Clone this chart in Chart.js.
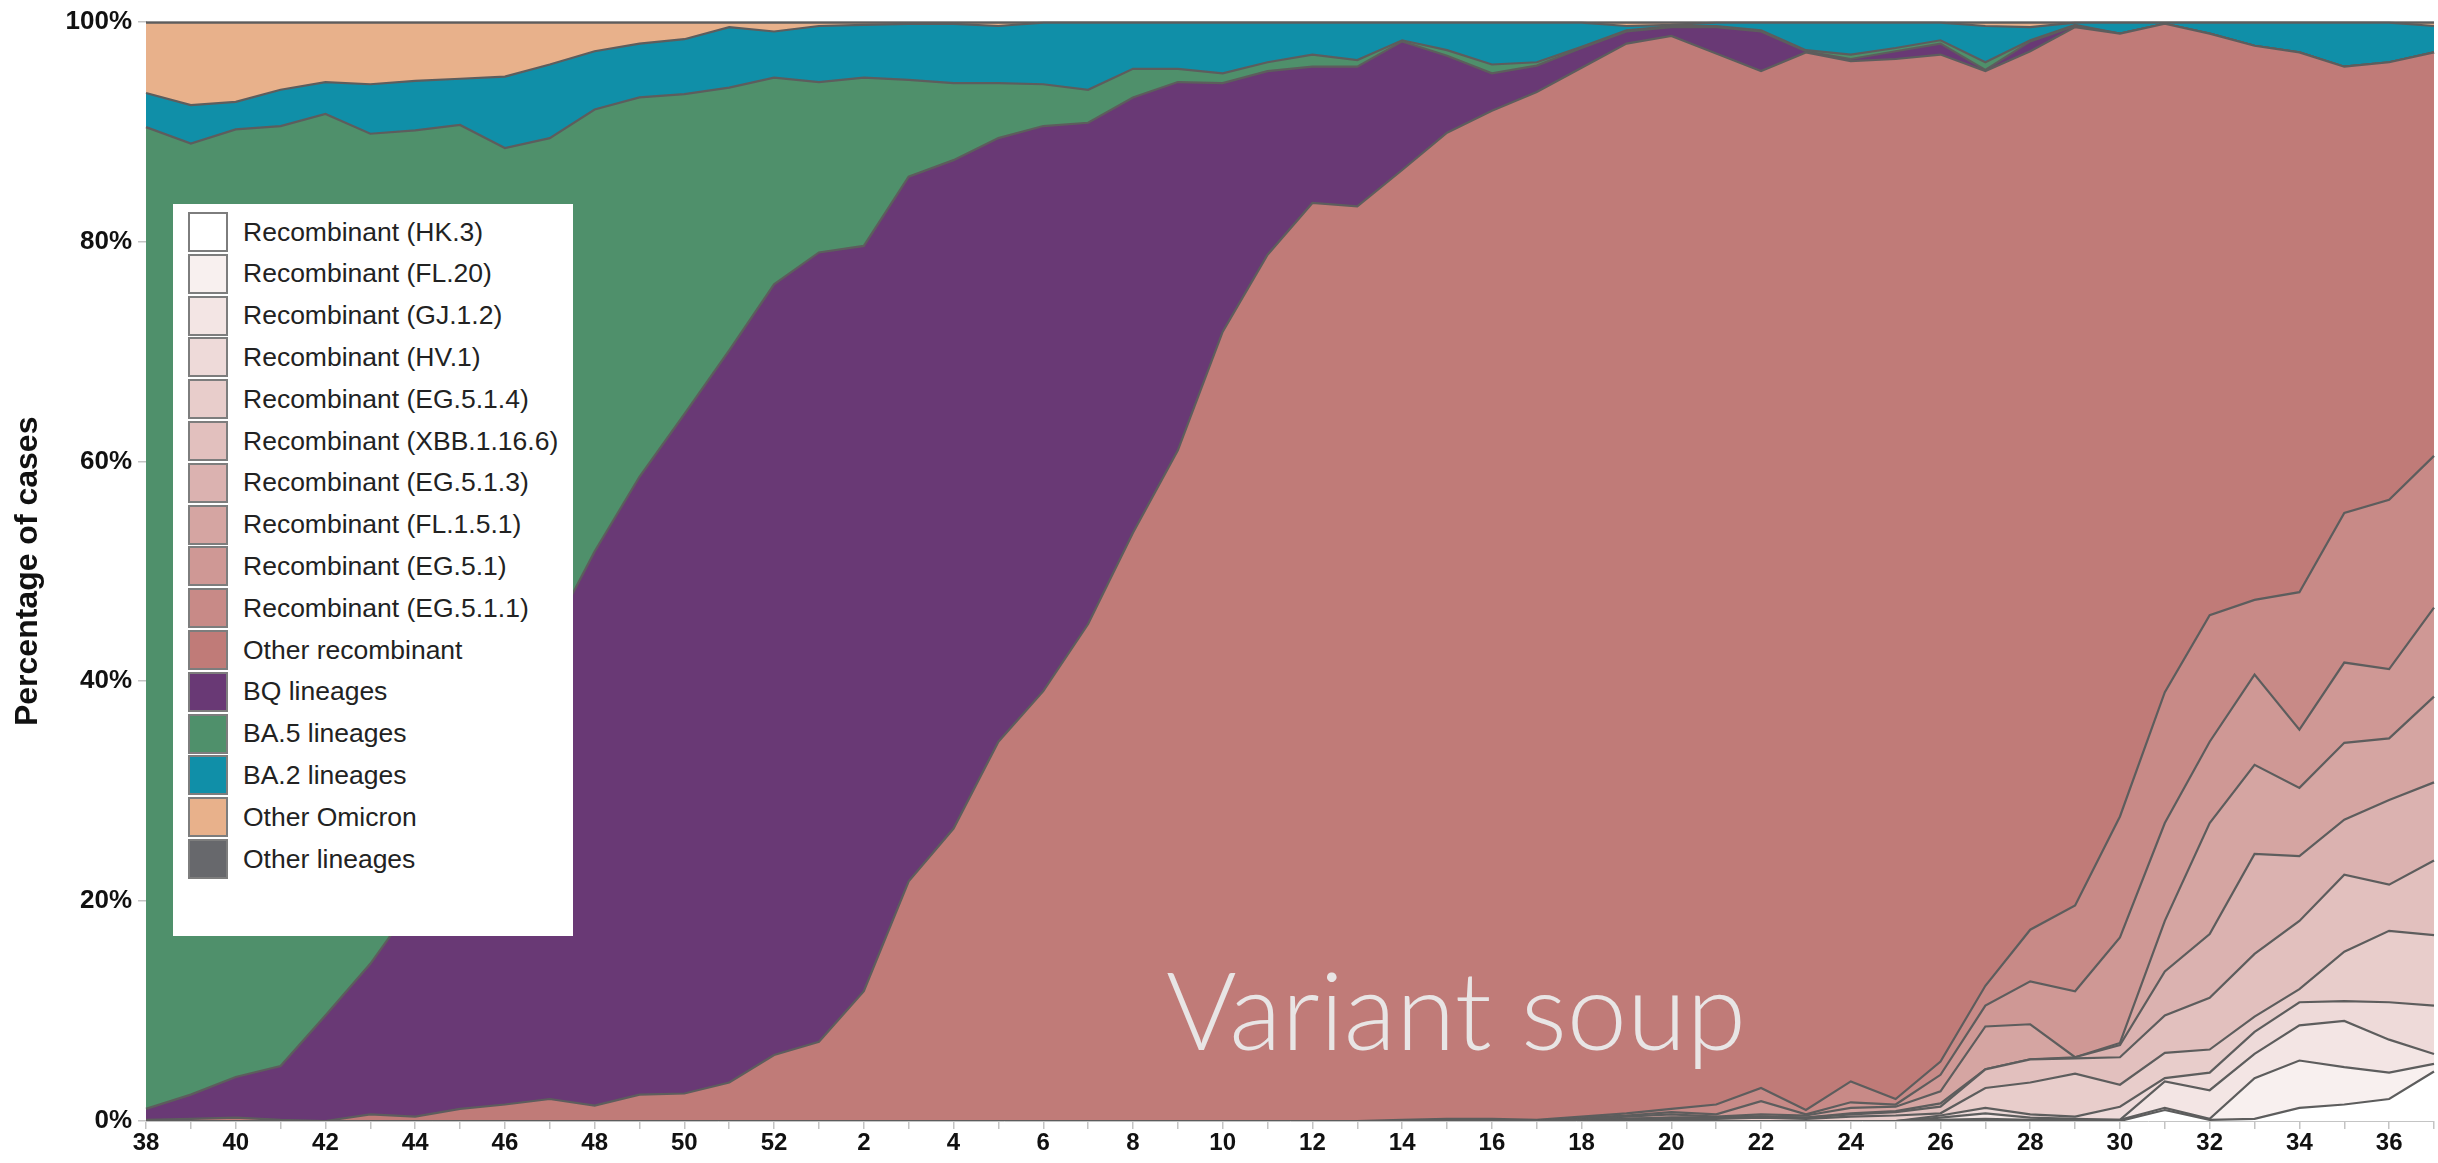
<!DOCTYPE html>
<html>
<head>
<meta charset="utf-8">
<script src="https://cdn.jsdelivr.net/npm/chart.js"></script>
<style>
  html, body { margin: 0; padding: 0; background: #fff; }
  #wrap { position: relative; width: 2438px; height: 1163px; }
  #legend { position: absolute; left: 173px; top: 204px; width: 400px; height: 732px; background: #fff; }
  .item { position: absolute; left: 15px; height: 40px; display: flex; align-items: center; }
  .sw { width: 36px; height: 36px; border: 2px solid #7d7d7d; }
  .lbl { margin-left: 15px; font: 26.5px 'Liberation Sans', Arial, sans-serif; color: #222; white-space: nowrap; }
</style>
</head>
<body>
<div id="wrap">
  <canvas id="chart" width="2438" height="1163"></canvas>
  <div id="legend"></div>
</div>

<script>
// ISO weeks, week 38 of one year to week 37 of the next
const weeks = ['38','39','40','41','42','43','44','45','46','47','48','49','50','51','52',
  '1','2','3','4','5','6','7','8','9','10','11','12','13','14','15','16','17','18','19','20',
  '21','22','23','24','25','26','27','28','29','30','31','32','33','34','35','36','37'];

// percentage of cases per week (bottom of the stack first)
const hk3 = [0,0,0,0,0,0,0,0,0,0,0,0,0, 0,0,0,0,0,0,0,0,0,0,0,0,0,
  0,0,0,0,0,0,0,0,0,0,0,0,0, 0,0,0,0,0,0,1.0,0.1,0.2,1.2,1.5,2.0,4.5];
const fl20 = [0,0,0,0,0,0,0,0,0,0,0,0,0, 0,0,0,0,0,0,0,0,0,0,0,0,0,
  0,0,0,0,0,0,0,0,0,0,0,0,0, 0,0.1,0.2,0.1,0.1,0.1,0.2,0.1,3.7,4.3,3.4,2.4,0.7];
const gj12 = [0,0,0,0,0,0,0,0,0,0,0,0,0, 0,0,0,0,0,0,0,0,0,0,0,0,0,
  0,0,0,0,0,0,0,0,0,0,0,0,0, 0,0.2,0.5,0.2,0.1,0,2.4,2.6,2.2,3.2,4.2,3.0,0.9];
const hv1 = [0,0,0,0,0,0,0,0,0,0,0,0,0, 0,0,0,0,0,0,0,0,0,0,0,0,0,
  0,0,0,0,0,0,0,0,0,0,0,0,0, 0,0.2,0.5,0.3,0.2,1.2,0.3,1.6,2.0,2.1,1.8,3.4,4.4];
const eg514 = [0,0,0,0,0,0,0,0,0,0,0,0,0, 0,0,0,0,0,0,0,0,0,0,0,0,0,
  0,0,0,0,0,0,0,0.1,0.2,0.2,0.3,0.2,0.4, 0.5,0.2,1.8,2.9,3.9,2.0,2.3,2.1,1.4,1.2,4.5,6.5,6.4];
const xbb11616 = [0,0,0,0,0,0,0,0,0,0,0,0,0, 0,0,0,0,0,0,0,0,0,0,0,0,0,
  0,0,0,0,0,0,0.1,0.1,0.1,0.1,0.1,0.1,0.2, 0.3,0.6,1.7,2.1,1.4,2.5,3.4,4.7,5.7,6.2,7.0,4.2,6.8];
const eg513 = [0,0,0,0,0,0,0,0,0,0,0,0,0, 0,0,0,0,0,0,0,0,0,0,0,0,0,
  0,0,0,0,0,0,0,0,0,0,0,0,0.1, 0.1,0.3,0,0,0.1,1.1,4.0,5.8,9.1,5.9,5.0,7.7,7.1];
const fl151 = [0,0,0,0,0,0,0,0,0,0,0,0,0, 0,0,0,0,0,0,0,0,0,0,0,0,0,
  0,0,0,0,0,0,0.1,0.2,0.3,0.1,0.2,0.2,0.5, 0.4,1.1,3.9,3.2,0,0.2,4.6,10.1,8.1,6.2,7.0,5.6,7.8];
const eg51 = [0,0,0,0,0,0,0,0,0,0,0,0,0, 0,0,0,0,0,0,0,0,0,0,0,0,0,
  0,0,0,0,0,0,0.1,0.1,0.2,0.2,1.2,0.1,0.5, 0.2,1.5,1.9,3.9,6.0,9.6,8.9,7.4,8.2,5.3,7.3,6.3,8.1];
const eg511 = [0,0,0,0,0,0,0,0,0,0,0,0,0, 0,0,0,0,0,0,0,0,0,0,0,0,0,
  0,0,0.1,0.2,0.2,0.1,0.1,0.2,0.3,0.9,1.2,0.4,1.9, 0.5,1.2,1.8,4.7,7.8,11.0,11.9,11.5,6.8,12.5,13.6,15.4,13.8];
const otherRecomb = [0.1,0.2,0.3,0.1,0.0,0.6,0.4,1.1,1.5,2.0,1.4,2.4,2.5,
  3.5,6.0,7.2,11.8,21.8,26.6,34.5,39.1,45.2,53.5,61.0,71.8,78.8,
  83.5,83.2,86.4,89.7,91.7,93.5,95.4,97.3,97.6,95.6,92.5,96.2,92.8,
  94.6,91.6,83.2,79.9,79.9,71.2,60.8,52.9,50.4,49.1,40.6,39.8,36.7];
const bq = [1.0,2.2,3.7,4.9,9.6,13.7,19.6,26.9,34.5,42.0,50.4,56.2,61.8,
  66.6,70.1,71.8,67.8,64.1,60.8,54.9,51.4,45.6,39.6,33.5,22.6,16.7,
  12.4,12.7,11.7,7.0,3.4,2.4,1.8,1.1,0.8,2.4,3.6,0.1,0.2,
  0.7,1.0,0.1,0.9,0.1,0,0,0,0,0,0,0,0];
const ba5 = [89.3,86.5,86.2,85.5,82.0,75.5,70.1,62.6,52.5,45.4,40.2,34.5,29.1,
  23.9,18.8,15.5,15.3,8.8,7.0,5.0,3.8,3.0,2.6,1.2,0.9,0.8,
  1.1,0.6,0.1,0.5,0.8,0.3,0.1,0.1,0.1,0.1,0.1,0.1,0.4,
  0.3,0.3,0.7,0.1,0.1,0,0,0,0,0,0,0,0];
const ba2 = [3.1,3.5,2.5,3.3,2.9,4.5,4.5,4.2,6.5,6.7,5.3,4.9,5.0,
  5.5,4.2,5.1,4.8,5.1,5.4,5.2,5.6,6.1,4.2,4.2,4.6,3.6,
  2.9,3.4,1.6,2.5,3.8,3.6,2.2,0.4,0.1,0.3,0.7,2.5,2.9,
  2.3,1.6,3.3,1.2,0.2,1.0,0.1,1.0,2.1,2.7,4.0,3.6,2.4];
const otherOmicron = [6.4,7.5,7.2,6.1,5.4,5.6,5.3,5.1,4.9,3.8,2.6,1.9,1.5,
  0.4,0.8,0.3,0.2,0.1,0.1,0.3,0,0,0,0,0,0,
  0,0,0,0,0,0,0,0.3,0.2,0,0,0,0,
  0,0,0.3,0.4,0,0,0,0,0,0,0,0,0.3];
const otherLineages = [0.1,0.1,0.1,0.1,0.1,0.1,0.1,0.1,0.1,0.1,0.1,0.1,0.1,
  0.1,0.1,0.1,0.1,0.1,0.1,0.1,0.1,0.1,0.1,0.1,0.1,0.1,
  0.1,0.1,0.1,0.1,0.1,0.1,0.1,0.1,0.1,0.1,0.1,0.1,0.1,
  0.1,0.1,0.1,0.1,0.1,0.1,0.1,0.1,0.1,0.1,0.1,0.1,0.1];

const seriesNames = ['Recombinant (HK.3)', 'Recombinant (FL.20)', 'Recombinant (GJ.1.2)',
  'Recombinant (HV.1)', 'Recombinant (EG.5.1.4)', 'Recombinant (XBB.1.16.6)',
  'Recombinant (EG.5.1.3)', 'Recombinant (FL.1.5.1)', 'Recombinant (EG.5.1)',
  'Recombinant (EG.5.1.1)', 'Other recombinant', 'BQ lineages', 'BA.5 lineages',
  'BA.2 lineages', 'Other Omicron', 'Other lineages'];
const seriesValues = [hk3, fl20, gj12, hv1, eg514, xbb11616, eg513, fl151, eg51, eg511,
  otherRecomb, bq, ba5, ba2, otherOmicron, otherLineages];
const seriesColors = ['#ffffff', '#f8f0ef', '#f3e5e4', '#eedad9', '#e8cdcb', '#e2c0be',
  '#dbb2b0', '#d5a5a2', '#cf9895', '#c88a87', '#c07b78', '#693975', '#4f906b',
  '#108fa8', '#e8b18b', '#67686c'];

const lineColor = '#5d5d5d';
const axisColor = '#c4c4c4';

const datasets = seriesNames.map((name, i) => ({
  label: name,
  data: seriesValues[i],
  backgroundColor: seriesColors[i],
  borderColor: lineColor,
  borderWidth: 2.2,
  fill: i === 0 ? 'origin' : '-1',
  pointRadius: 0,
  tension: 0
}));

// the big caption inside the plot
const soupText = {
  id: 'soupText',
  afterDatasetsDraw(chart) {
    const c = chart.ctx;
    c.save();
    c.font = '300 108px Lato, "Open Sans", sans-serif';
    c.fillStyle = '#e8e5e5';
    c.textBaseline = 'alphabetic';
    c.fillText('Variant soup', 1166, 1050);
    c.restore();
  }
};

new Chart(document.getElementById('chart'), {
  type: 'line',
  data: { labels: weeks, datasets: datasets },
  plugins: [soupText],
  options: {
    responsive: false,
    animation: false,
    devicePixelRatio: 1,
    layout: { padding: { top: 19, right: 4, left: 0, bottom: 0 } },
    plugins: {
      legend: { display: false },
      tooltip: { enabled: false }
    },
    scales: {
      x: {
        offset: false,
        afterFit: (scale) => { scale.height = 42; },
        grid: { display: true, drawOnChartArea: false, drawTicks: true, tickLength: 8, color: axisColor, lineWidth: 1.5 },
        border: { display: true, color: axisColor },
        ticks: {
          autoSkip: false,
          maxRotation: 0,
          padding: 0,
          color: '#111',
          font: { family: "'Liberation Sans', Arial, sans-serif", size: 24, weight: 'bold' },
          callback: (v, i) => (i % 2 === 0 ? weeks[i] : '')
        }
      },
      y: {
        stacked: true,
        min: 0,
        max: 100,
        afterFit: (scale) => { scale.width = 146; },
        grid: { display: true, drawOnChartArea: false, drawTicks: true, tickLength: 8, color: axisColor, lineWidth: 1.5 },
        border: { display: true, color: axisColor },
        ticks: {
          stepSize: 20,
          padding: 6,
          color: '#111',
          font: { family: "'Liberation Sans', Arial, sans-serif", size: 26, weight: 'bold' },
          callback: (v) => v + '%'
        },
        title: {
          display: true,
          text: 'Percentage of cases',
          color: '#111',
          padding: { top: 9, bottom: 0 },
          font: { family: "'Liberation Sans', Arial, sans-serif", size: 32, weight: 'bold' }
        }
      }
    }
  }
});

// legend box laid over the plot, same order as the stack (bottom first)
const legendBox = document.getElementById('legend');
seriesNames.forEach((name, i) => {
  const item = document.createElement('div');
  item.className = 'item';
  item.style.top = (8 + i * 41.8) + 'px';
  const sw = document.createElement('div');
  sw.className = 'sw';
  sw.style.background = seriesColors[i];
  const lbl = document.createElement('span');
  lbl.className = 'lbl';
  lbl.textContent = name;
  item.appendChild(sw);
  item.appendChild(lbl);
  legendBox.appendChild(item);
});
</script>
</body>
</html>
